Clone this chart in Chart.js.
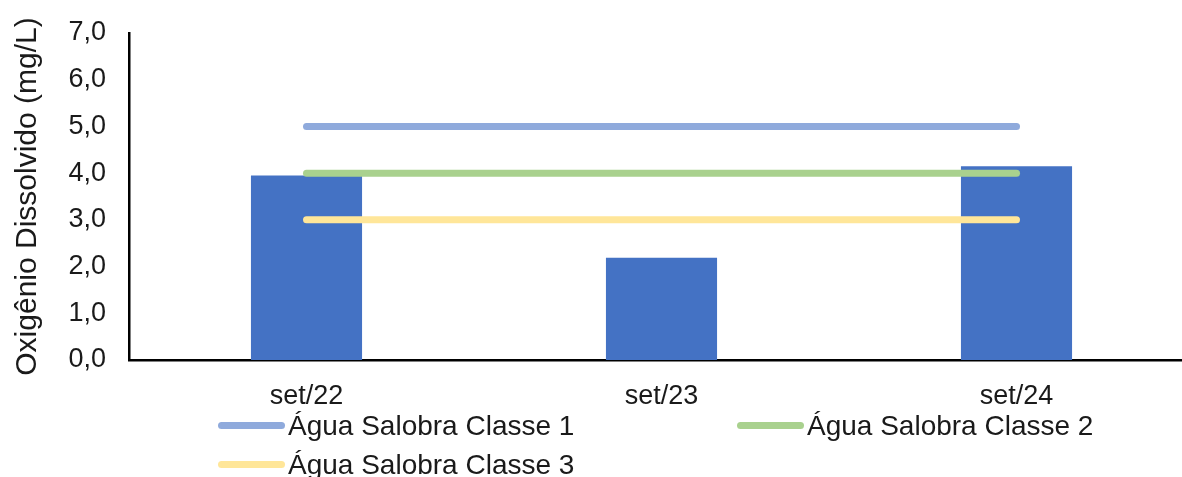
<!DOCTYPE html>
<html lang="pt">
<head>
<meta charset="utf-8">
<title>Oxigênio Dissolvido</title>
<script src="https://cdn.jsdelivr.net/npm/chart.js@4.4.1/dist/chart.umd.min.js"></script>
<style>
    html, body { margin: 0; padding: 0; background: #fff; overflow: hidden; }
    #wrap { position: relative; width: 1194px; height: 477px; }
    #legend {
        position: absolute; left: 218px; top: 406px; width: 1100px;
        display: flex; flex-wrap: wrap;
        font-family: "Liberation Sans", Arial, sans-serif; font-size: 28px; color: #1a1a1a;
    }
    .item { width: 519px; height: 39px; display: flex; align-items: center; white-space: nowrap; }
    .swatch { width: 67px; height: 7px; border-radius: 4px; margin-right: 3px; }
</style>
</head>
<body>
<div id="wrap">
    <canvas id="odChart"></canvas>
    <div id="legend"></div>
</div>
<script>
// campanhas e valores medidos
const campanhas = ['set/22', 'set/23', 'set/24'];
const oxigenio = [3.95, 2.19, 4.15];

// limites de referência (CONAMA, água salobra)
const classe1 = [5.0, 5.0, 5.0];
const classe2 = [4.0, 4.0, 4.0];
const classe3 = [3.0, 3.0, 3.0];

const yTicks = [0, 1, 2, 3, 4, 5, 6, 7];

const fonte = '"Liberation Sans", Arial, sans-serif';

function limite(label, data, cor) {
    return {
        type: 'line',
        label: label,
        data: data,
        borderColor: cor,
        backgroundColor: cor,
        borderWidth: 7,
        borderCapStyle: 'round',
        pointRadius: 0,
        fill: false,
        order: 0
    };
}

const datasets = [
    limite('Água Salobra Classe 1', classe1, '#8faadc'),
    limite('Água Salobra Classe 2', classe2, '#a9d18e'),
    limite('Água Salobra Classe 3', classe3, '#ffe699'),
    {
        type: 'bar',
        label: 'Oxigênio Dissolvido',
        data: oxigenio,
        backgroundColor: '#4472c4',
        barPercentage: 0.313,
        categoryPercentage: 1,
        order: 1
    }
];

const ctx = document.getElementById('odChart').getContext('2d');
const chart = new Chart(ctx, {
    data: { labels: campanhas, datasets: datasets },
    options: {
        responsive: true,
        maintainAspectRatio: false,
        animation: false,
        layout: { padding: { top: 33, right: 0, bottom: 0, left: 0 } },
        plugins: {
            legend: { display: false },
            tooltip: { enabled: false }
        },
        scales: {
            x: {
                offset: true,
                grid: { display: false, drawTicks: false },
                border: { display: true, color: '#000', width: 2.5 },
                ticks: { padding: 20, color: '#1a1a1a', font: { family: fonte, size: 27 } },
                afterFit: function (scale) {
                    scale.height = 117;
                    scale.paddingLeft = 0;
                    scale.paddingRight = 0;
                }
            },
            y: {
                min: 0,
                max: 7,
                afterBuildTicks: function (scale) {
                    scale.ticks = yTicks.map(v => ({ value: v }));
                },
                grid: { display: false, drawTicks: false },
                border: { display: true, color: '#000', width: 2.5 },
                ticks: {
                    padding: 23,
                    color: '#1a1a1a',
                    font: { family: fonte, size: 27 },
                    callback: function (value) {
                        return value.toFixed(1).replace('.', ',');
                    }
                },
                title: {
                    display: true,
                    text: 'Oxigênio Dissolvido (mg/L)',
                    color: '#1a1a1a',
                    font: { family: fonte, size: 30 },
                    padding: { top: 10, bottom: 0 }
                },
                afterFit: function (scale) {
                    scale.width = 129;
                    scale.paddingTop = 0;
                    scale.paddingBottom = 0;
                }
            }
        }
    }
});

// legenda em duas colunas, construída a partir das séries de limite
const legendEl = document.getElementById('legend');
datasets.filter(d => d.type === 'line').forEach(d => {
    const item = document.createElement('div');
    item.className = 'item';
    item.innerHTML = '<span class="swatch" style="background:' + d.borderColor + '"></span><span>' + d.label + '</span>';
    legendEl.appendChild(item);
});
</script>
</body>
</html>
